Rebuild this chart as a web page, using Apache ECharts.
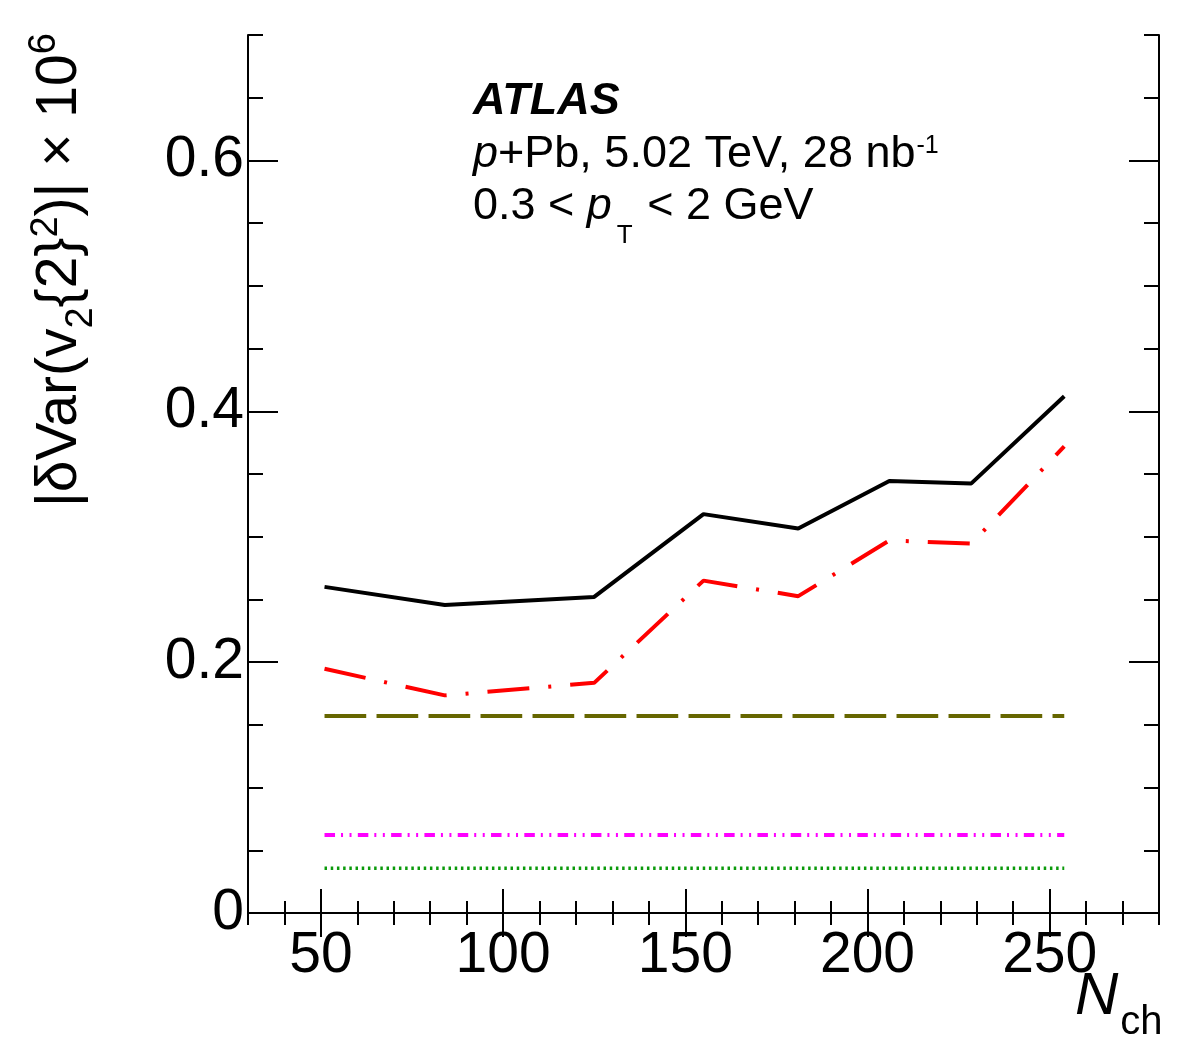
<!DOCTYPE html>
<html>
<head>
<meta charset="utf-8">
<script src="https://cdn.jsdelivr.net/npm/echarts@6/dist/echarts.min.js"></script>
<style>
  html, body { margin: 0; padding: 0; background: #fff; }
  #chart { width: 1182px; height: 1059px; }
</style>
</head>
<body>
<div id="chart"></div>
<script>
// N_ch bin centres
var nch = [51, 84, 125, 155, 181, 206, 228.5, 254]
// total systematic (black solid)
var total = [0.260, 0.2455, 0.252, 0.318, 0.3065, 0.3445, 0.3425, 0.412]
// red dash-dot
var redSys = [0.1947, 0.1735, 0.1835, 0.265, 0.2526, 0.297, 0.2945, 0.372]
// flat contributions
var oliveSys = [0.157, 0.157, 0.157, 0.157, 0.157, 0.157, 0.157, 0.157]
var magentaSys = [0.0622, 0.0622, 0.0622, 0.0622, 0.0622, 0.0622, 0.0622, 0.0622]
var greenSys = [0.0356, 0.0356, 0.0356, 0.0356, 0.0356, 0.0356, 0.0356, 0.0356]

var xMajor = [50, 100, 150, 200, 250]
var yMajor = [0, 0.2, 0.4, 0.6]

var FONT = 'Liberation Sans'
var MID = 0.3465 // em-middle above baseline for this font

function pts (ys) {
  return nch.map(function (x, i) { return [x, ys[i]] })
}

function xAx (pos, major) {
  return {
    type: 'value', min: 30, max: 280, position: pos,
    interval: major ? undefined : 10,
    axisLine: { show: !major, lineStyle: { color: '#000', width: 2 } },
    axisTick: major
      ? { inside: true, length: 24, customValues: xMajor, lineStyle: { color: '#000', width: 2 } }
      : { inside: true, length: 12, lineStyle: { color: '#000', width: 2 } },
    axisLabel: (major && pos === 'bottom')
      ? { customValues: xMajor, color: '#000', fontFamily: FONT, fontSize: 57, margin: 15 }
      : { show: false },
    splitLine: { show: false }
  }
}

function yAx (pos, major) {
  return {
    type: 'value', min: 0, max: 0.7, position: pos,
    interval: major ? undefined : 0.05,
    axisLine: { show: !major, lineStyle: { color: '#000', width: 2 } },
    axisTick: major
      ? { inside: true, length: 30, customValues: yMajor, lineStyle: { color: '#000', width: 2 } }
      : { inside: true, length: 15, lineStyle: { color: '#000', width: 2 } },
    axisLabel: (major && pos === 'left')
      ? { customValues: yMajor, color: '#000', fontFamily: FONT, fontSize: 57, margin: 4 }
      : { show: false },
    splitLine: { show: false }
  }
}

function line (ys, color, width, type) {
  return {
    type: 'line', xAxisIndex: 0, yAxisIndex: 0,
    data: pts(ys), showSymbol: false, silent: true,
    lineStyle: { color: color, width: width, type: type || 'solid' }
  }
}

// text pieces laid out one after another (for sub/superscripts)
var ctx = document.createElement('canvas').getContext('2d')
function fontOf (p) {
  return (p.st ? p.st + ' ' : '') + p.size + 'px "' + FONT + '"'
}
function textW (p) {
  ctx.font = fontOf(p)
  return ctx.measureText(p.t).width
}
function seq (x0, base, pieces) {
  var x = x0
  return pieces.map(function (p) {
    x += p.gap || 0
    var el = {
      type: 'text', x: x, y: base + (p.dy || 0) - MID * p.size, silent: true,
      style: { text: p.t, font: fontOf(p), fill: '#000', align: 'left', verticalAlign: 'middle' }
    }
    x += textW(p)
    return el
  })
}
// rotated 90deg, reading bottom to top
function seqV (baseX, y0, pieces) {
  var y = y0
  return pieces.map(function (p) {
    y -= p.gap || 0
    var el = {
      type: 'text', x: baseX + (p.dy || 0) - MID * p.size, y: y, rotation: Math.PI / 2, silent: true,
      style: { text: p.t, font: fontOf(p), fill: '#000', align: 'left', verticalAlign: 'middle' }
    }
    y -= textW(p)
    return el
  })
}

var graphics = []
  .concat(seqV(80, 507, [
    { t: '|δVar(v', size: 57 },
    { t: '2', size: 38, dy: 15 },
    { t: '{2}', size: 57 },
    { t: '2', size: 38, dy: -20 },
    { t: ')| × 10', size: 57 },
    { t: '6', size: 38, dy: -22 }
  ]))
  .concat(seq(473, 117, [{ t: 'ATLAS', size: 45, st: 'italic bold' }]))
  .concat(seq(473, 170, [
    { t: 'p', size: 45, st: 'italic' },
    { t: '+Pb, 5.02 TeV, 28 nb', size: 45 },
    { t: '-1', size: 25, dy: -15, gap: 1 }
  ]))
  .concat(seq(473, 222, [
    { t: '0.3 < ', size: 45 },
    { t: 'p', size: 45, st: 'italic' },
    { t: 'T', size: 26, dy: 23, gap: 5 },
    { t: ' < 2 GeV', size: 45, gap: 2 }
  ]))
  .concat(seq(1075, 1018, [
    { t: 'N', size: 60, st: 'italic' },
    { t: 'ch', size: 40, dy: 19, gap: 2 }
  ]))

var chart = echarts.init(document.getElementById('chart'))
chart.setOption({
  animation: false,
  backgroundColor: '#fff',
  grid: { left: 248, right: 23, top: 35, bottom: 146, containLabel: false, outerBoundsMode: 'none' },
  xAxis: [xAx('bottom', false), xAx('bottom', true), xAx('top', false), xAx('top', true)],
  yAxis: [yAx('left', false), yAx('left', true), yAx('right', false), yAx('right', true)],
  series: [
    line(greenSys, '#0b9a0b', 3.5, [2.5, 3.7]),
    line(magentaSys, '#ff00ff', 4, [10.5, 6, 2, 6.5, 2, 6.3]),
    line(oliveSys, '#666600', 4, [41.7, 10.3]),
    line(redSys, '#ff0000', 4, [42, 19, 3, 19]),
    line(total, '#000000', 4)
  ],
  graphic: graphics
})
</script>
</body>
</html>
